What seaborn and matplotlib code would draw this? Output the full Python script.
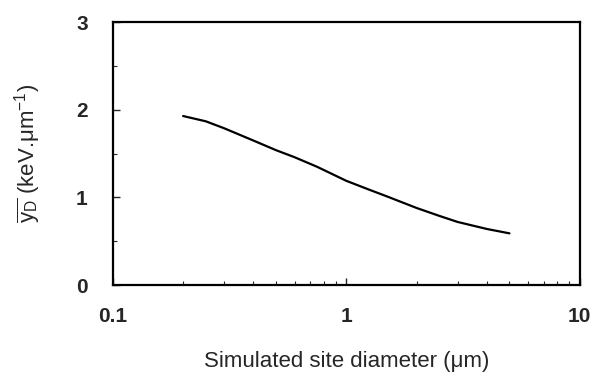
import matplotlib
matplotlib.use("Agg")
import matplotlib.pyplot as plt
import seaborn as sns
import pandas as pd
from matplotlib.ticker import LogLocator, FixedLocator, NullFormatter

diameter_um = [0.2, 0.25, 0.3, 0.4, 0.5, 0.6, 0.75, 1.0, 1.25, 1.5, 2.0, 2.5, 3.0, 4.0, 5.0]
yd_values = [1.93, 1.87, 1.79, 1.65, 1.54, 1.46, 1.35, 1.19, 1.09, 1.01, 0.88, 0.79, 0.72, 0.64, 0.59]
x_ticks = [0.1, 1, 10]
x_ticklabels = ["0.1", "1", "10"]
y_ticks = [0, 1, 2, 3]
y_ticklabels = ["0", "1", "2", "3"]

sns.set_style("ticks")
plt.rcParams['font.family'] = ['Liberation Sans', 'DejaVu Sans']
plt.rcParams['mathtext.fontset'] = 'custom'
plt.rcParams['mathtext.rm'] = 'Liberation Sans'
plt.rcParams['mathtext.it'] = 'Liberation Sans'
plt.rcParams['mathtext.bf'] = 'Liberation Sans:bold'

df = pd.DataFrame({"d": diameter_um, "y": yd_values})

fig = plt.figure(figsize=(5.94, 3.79), dpi=100)
ax = fig.add_axes([0.190, 0.248, 0.786, 0.693])
sns.lineplot(data=df, x="d", y="y", ax=ax, color="black", linewidth=1.6)
ax.set_xscale("log")
ax.set_xlim(0.1, 10)
ax.set_ylim(0, 3)
ax.set_xticks(x_ticks)
ax.set_xticklabels(x_ticklabels)
ax.xaxis.set_minor_locator(LogLocator(base=10, subs=range(2, 10)))
ax.xaxis.set_minor_formatter(NullFormatter())
ax.set_yticks(y_ticks)
ax.set_yticklabels(y_ticklabels)
ax.yaxis.set_minor_locator(FixedLocator([0.5, 1.5, 2.5]))
for s in ax.spines.values():
    s.set_linewidth(1.6)
    s.set_color("black")
ax.tick_params(which="major", direction="in", length=5, width=1.0, labelsize=15)
ax.tick_params(which="minor", direction="in", length=3, width=0.8)
ax.tick_params(axis="x", pad=16)
ax.tick_params(axis="y", pad=18)
for lab in ax.get_xticklabels() + ax.get_yticklabels():
    lab.set_fontweight("bold")
ax.set_xlabel("Simulated site diameter (\u03bcm)", fontsize=16, labelpad=18)
ax.set_ylabel(r"$\overline{\mathrm{y_D}}$ (keV.$\mathrm{\mu}$m$^{-1}$)", fontsize=16, labelpad=24)
fig.savefig("out.png", dpi=100)
